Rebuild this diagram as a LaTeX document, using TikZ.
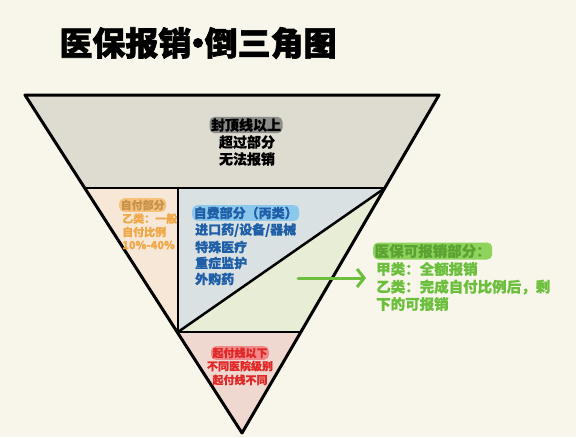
\documentclass[tikz,border=0pt]{standalone}
\usepackage{fontspec}
\setmainfont{Noto Sans CJK SC}
\newfontfamily\cjk[BoldFeatures={FakeBold=0.7}]{Noto Sans CJK SC}
\newfontfamily\heavy[BoldFeatures={FakeBold=1.8}]{Noto Sans CJK SC}
\usetikzlibrary{arrows.meta}
\definecolor{bgc}{HTML}{F8F6EA}
\definecolor{greyfill}{HTML}{DEDCD1}
\definecolor{orfill}{HTML}{F6E7D6}
\definecolor{bluefill}{HTML}{D9E1E2}
\definecolor{grfill}{HTML}{E8EDD6}
\definecolor{pkfill}{HTML}{EFD8D0}
\definecolor{ortext}{HTML}{F0A848}
\definecolor{orhl}{HTML}{F6C27A}
\definecolor{bltext}{HTML}{1F5FA8}
\definecolor{blhl}{HTML}{8CC8EC}
\definecolor{grtext}{HTML}{6CBF3C}
\definecolor{grhl}{HTML}{8ED35C}
\definecolor{rdtext}{HTML}{E02828}
\definecolor{rdhl}{HTML}{F08A8A}
\definecolor{gyhl}{HTML}{8C8C88}
\tikzset{
  edge/.style={line width=3pt, line join=round, line cap=round},
  inner/.style={line width=2.5pt, line cap=round},
  lbl/.style={inner sep=0pt, anchor=west, font=\cjk\bfseries},
  hl/.style={inner sep=1.5pt, rounded corners=5pt},
}
\begin{document}
\begin{tikzpicture}[x=1pt, y=-1pt]
\fill[bgc] (0,0) rectangle (576,437);
\useasboundingbox (0,0) rectangle (576,437);
% key points
\coordinate (TL) at (25,95);
\coordinate (TR) at (439,95);
\coordinate (ML) at (85,188);
\coordinate (MV) at (178,188);
\coordinate (MR) at (385,188);
\coordinate (BL) at (178,332);
\coordinate (BR) at (301,332);
\coordinate (AP) at (242,433);
% fills
\fill[greyfill] (TL) -- (TR) -- (MR) -- (ML) -- cycle;
\fill[orfill] (ML) -- (MV) -- (BL) -- cycle;
\fill[bluefill] (MV) -- (MR) -- (BL) -- cycle;
\fill[grfill] (BL) -- (MR) -- (BR) -- cycle;
\fill[pkfill] (BL) -- (BR) -- (AP) -- cycle;
% inner lines
\draw[inner] (ML) -- (MR);
\draw[inner] (MV) -- (BL);
\draw[inner] (BL) -- (MR);
\draw[inner] (BL) -- (BR);
% outline
\draw[edge] (TL) -- (TR) -- (AP) -- cycle;
% title
\node[font=\heavy\bfseries\fontsize{33}{35}\selectfont, inner sep=0pt] (title) at (198,43) {医保报销\kern-0.3em·\kern-0.3em倒三角图};
% top region
\node[hl, fill=gyhl, font=\cjk\bfseries\fontsize{14}{16}\selectfont] (t1) at (246,125) {封顶线以上};
\node[font=\cjk\bfseries\fontsize{14}{16}\selectfont, inner sep=0pt] (t2) at (247,142) {超过部分};
\node[font=\cjk\bfseries\fontsize{14}{16}\selectfont, inner sep=0pt] (t3) at (247,159) {无法报销};
% left region
\node[lbl, hl, fill=orhl, text=ortext!80!black!90, font=\cjk\bfseries\fontsize{11}{13}\selectfont] (o1) at (119,205) {自付部分};
\node[lbl, text=ortext, font=\cjk\bfseries\fontsize{11}{13}\selectfont] (o2) at (122,218.5) {乙类：一般};
\node[lbl, text=ortext, font=\cjk\bfseries\fontsize{11}{13}\selectfont] (o3) at (122,232) {自付比例};
\node[lbl, text=ortext, font=\cjk\bfseries\fontsize{11}{13}\selectfont] (o4) at (122,245) {10\%-40\%};
% blue region
\node[lbl, hl, fill=blhl, text=bltext, font=\cjk\bfseries\fontsize{13}{15}\selectfont] (b1) at (192,213) {自费部分（丙类）};
\node[lbl, text=bltext, font=\cjk\bfseries\fontsize{13}{15}\selectfont] (b2) at (195,230) {进口药/设备/器械};
\node[lbl, text=bltext, font=\cjk\bfseries\fontsize{13}{15}\selectfont] (b3) at (195,247) {特殊医疗};
\node[lbl, text=bltext, font=\cjk\bfseries\fontsize{13}{15}\selectfont] (b4) at (195,263) {重症监护};
\node[lbl, text=bltext, font=\cjk\bfseries\fontsize{13}{15}\selectfont] (b5) at (195,279) {外购药};
% green annotation
\node[lbl, hl, fill=grhl, text=grtext!85!black, font=\cjk\bfseries\fontsize{14.5}{16}\selectfont] (g1) at (373,251) {医保可报销部分：};
\node[lbl, text=grtext, font=\cjk\bfseries\fontsize{14.5}{16}\selectfont] (g2) at (376,269) {甲类：全额报销};
\node[lbl, text=grtext, font=\cjk\bfseries\fontsize{14.5}{16}\selectfont] (g3) at (376,287) {乙类：完成自付比例后，剩};
\node[lbl, text=grtext, font=\cjk\bfseries\fontsize{14.5}{16}\selectfont] (g4) at (376,304) {下的可报销};
\coordinate (arrS) at (298,278);
\coordinate (arrE) at (366,278);
\draw[grtext, line width=3pt, line cap=round, -{Straight Barb[length=7pt, width=18pt, line width=3pt]}] (arrS) -- (arrE);
% bottom region
\node[hl, fill=rdhl, text=rdtext, font=\cjk\bfseries\fontsize{11}{13}\selectfont] (r1) at (240,353) {起付线以下};
\node[text=rdtext, font=\cjk\bfseries\fontsize{11}{13}\selectfont, inner sep=0pt] (r2) at (240,366) {不同医院级别};
\node[text=rdtext, font=\cjk\bfseries\fontsize{11}{13}\selectfont, inner sep=0pt] (r3) at (240,380) {起付线不同};
\end{tikzpicture}
\end{document}
